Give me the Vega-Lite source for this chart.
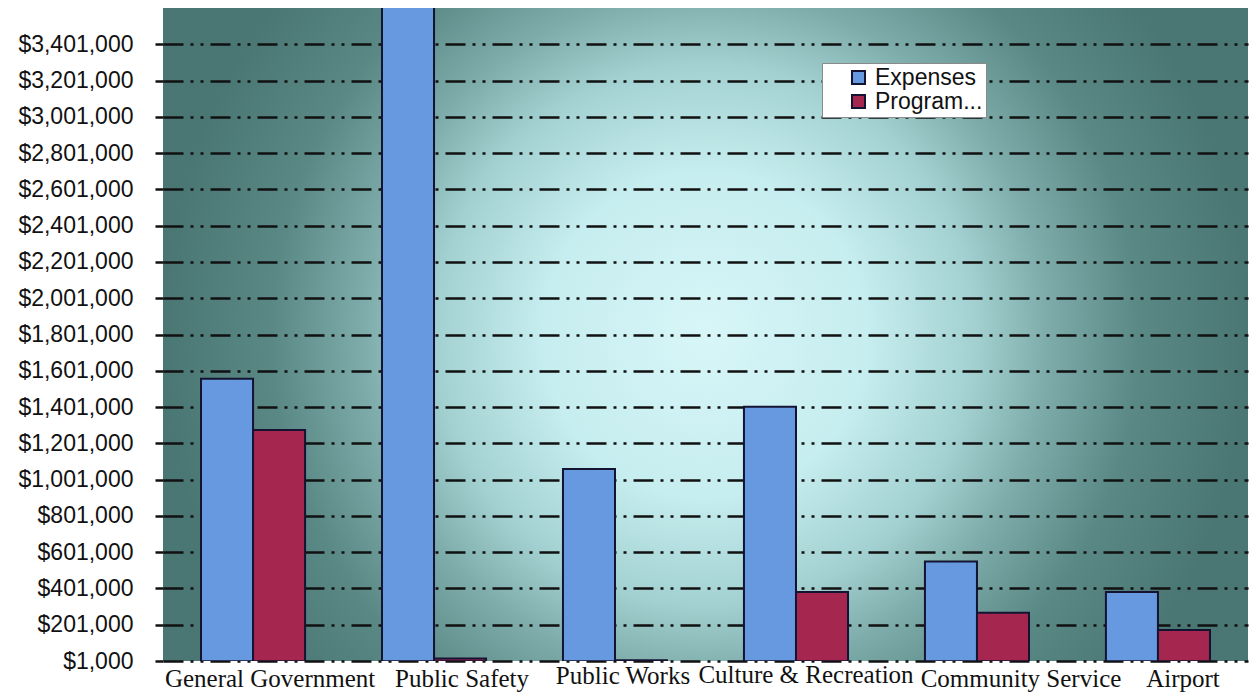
{
  "$schema": "https://vega.github.io/schema/vega-lite/v6.json",
  "width": 1085,
  "height": 653,
  "autosize": "none",
  "padding": {"left": 163, "top": 8, "right": 5, "bottom": 33},
  "background": "white",
  "data": {
    "values": [
      {"category": "General Government", "series": "Expenses", "amount": 1557000},
      {"category": "General Government", "series": "Program Revenues", "amount": 1275000},
      {"category": "Public Safety", "series": "Expenses", "amount": 3700000},
      {"category": "Public Safety", "series": "Program Revenues", "amount": 15000},
      {"category": "Public Works", "series": "Expenses", "amount": 1060000},
      {"category": "Public Works", "series": "Program Revenues", "amount": 5000},
      {"category": "Culture & Recreation", "series": "Expenses", "amount": 1402000},
      {"category": "Culture & Recreation", "series": "Program Revenues", "amount": 382000},
      {"category": "Community Service", "series": "Expenses", "amount": 549000},
      {"category": "Community Service", "series": "Program Revenues", "amount": 267000},
      {"category": "Airport", "series": "Expenses", "amount": 382000},
      {"category": "Airport", "series": "Program Revenues", "amount": 172000}
    ]
  },
  "mark": {"type": "bar", "clip": true, "stroke": "#141432", "strokeWidth": 2, "strokeOpacity": 1},
  "encoding": {
    "x": {
      "field": "category",
      "type": "nominal",
      "sort": null,
      "scale": {"paddingInner": 0.425, "paddingOuter": 0.21},
      "axis": {
        "title": null,
        "labelAngle": 0,
        "labelFont": "Liberation Serif",
        "labelFontSize": 25,
        "labelColor": "#111111",
        "labelPadding": {
          "condition": [
            {"test": "datum.value == 'Culture & Recreation'", "value": 1},
            {"test": "datum.value == 'Public Works'", "value": 2}
          ],
          "value": 5
        },
        "labelOffset": {
          "condition": [
            {"test": "datum.value == 'General Government'", "value": 17},
            {"test": "datum.value == 'Public Safety'", "value": 28},
            {"test": "datum.value == 'Public Works'", "value": 8},
            {"test": "datum.value == 'Culture & Recreation'", "value": 10},
            {"test": "datum.value == 'Community Service'", "value": 44}
          ],
          "value": 25
        },
        "labelLimit": 400,
        "ticks": false,
        "domain": false
      }
    },
    "xOffset": {"field": "series", "type": "nominal", "sort": ["Expenses", "Program Revenues"], "scale": {"paddingInner": 0}},
    "y": {
      "field": "amount",
      "type": "quantitative",
      "scale": {"domain": [1000, 3601000], "zero": false, "nice": false},
      "axis": {
        "title": null,
        "values": [1000, 201000, 401000, 601000, 801000, 1001000, 1201000, 1401000, 1601000, 1801000, 2001000, 2201000, 2401000, 2601000, 2801000, 3001000, 3201000, 3401000],
        "format": "$,.0f",
        "labelFont": "Liberation Sans",
        "labelFontSize": 23,
        "labelColor": "#111111",
        "labelPadding": 22,
        "domain": false,
        "grid": true,
        "gridColor": "#111111",
        "gridWidth": 2.5,
        "gridDash": [20, 7, 3, 7, 3, 7],
        "gridOpacity": 1,
        "ticks": true,
        "tickSize": 8,
        "tickColor": "#111111",
        "tickWidth": 2.5,
        "tickDash": [20, 7, 3, 7, 3, 7]
      }
    },
    "color": {
      "field": "series",
      "type": "nominal",
      "sort": ["Expenses", "Program Revenues"],
      "scale": {"domain": ["Expenses", "Program Revenues"], "range": ["#6699e0", "#a5264f"]},
      "legend": {
        "title": null,
        "orient": "none",
        "legendX": 659,
        "legendY": 55,
        "labelExpr": "datum.label == 'Expenses' ? 'Expenses' : 'Program...'",
        "labelFont": "Liberation Sans",
        "labelFontSize": 23,
        "labelColor": "#111111",
        "labelOffset": 5,
        "symbolType": "square",
        "symbolSize": 170,
        "symbolStrokeColor": "#141432",
        "symbolStrokeWidth": 2,
        "symbolOpacity": 1,
        "symbolOffset": 22,
        "rowPadding": 0,
        "padding": 3,
        "fillColor": "white",
        "strokeColor": "#8a8a8a"
      }
    }
  },
  "config": {
    "view": {
      "stroke": null,
      "fill": {
        "gradient": "radial",
        "x1": 0.5, "y1": 0.5, "r1": 0,
        "x2": 0.5, "y2": 0.5, "r2": 0.5,
        "stops": [
          {"offset": 0, "color": "#d8f6f8"},
          {"offset": 0.3, "color": "#c6edef"},
          {"offset": 0.5, "color": "#a2d0d0"},
          {"offset": 0.63, "color": "#7dacaa"},
          {"offset": 0.8, "color": "#5a8885"},
          {"offset": 1, "color": "#4a7774"}
        ]
      }
    }
  }
}
